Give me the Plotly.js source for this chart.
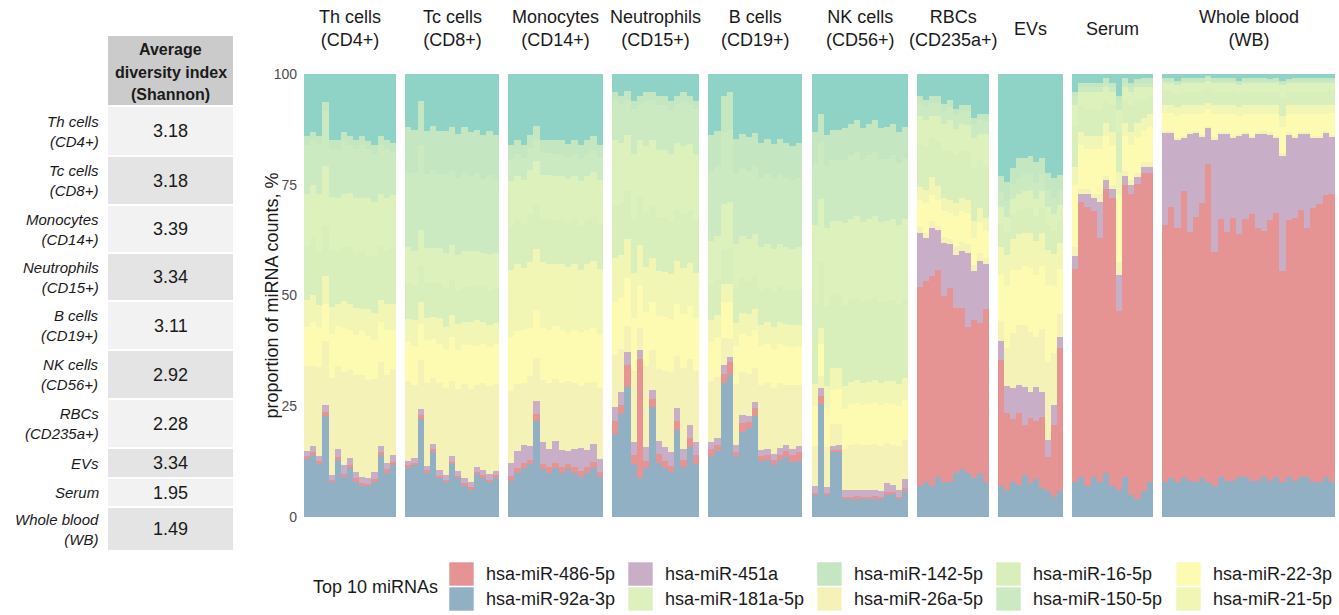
<!DOCTYPE html>
<html>
<head>
<meta charset="utf-8">
<script src="https://cdn.plot.ly/plotly-3.0.1.min.js"></script>
<style>
  html, body { margin: 0; padding: 0; background: #ffffff; }
  #chart { width: 1339px; height: 615px; }
</style>
</head>
<body>
<div id="chart"></div>
<script>
// ---------------- DATA ----------------
const panelNames = ["Th cells<br>(CD4+)", "Tc cells<br>(CD8+)", "Monocytes<br>(CD14+)", "Neutrophils<br>(CD15+)",
  "B cells<br>(CD19+)", "NK cells<br>(CD56+)", "RBCs<br>(CD235a+)", "EVs", "Serum", "Whole blood<br>(WB)"];

const tableHeader = ["Average", "diversity index", "(Shannon)"];
const shannonIndex = [3.18, 3.18, 3.39, 3.34, 3.11, 2.92, 2.28, 3.34, 1.95, 1.49];

const yTitle = "proportion of miRNA counts, %";
const yTicks = [0, 25, 50, 75, 100];
const legendTitle = "Top 10 miRNAs";
const legendOrder = ["hsa-miR-486-5p", "hsa-miR-92a-3p", "hsa-miR-451a", "hsa-miR-181a-5p", "hsa-miR-142-5p",
  "hsa-miR-26a-5p", "hsa-miR-16-5p", "hsa-miR-150-5p", "hsa-miR-22-3p", "hsa-miR-21-5p"];

// proportion of counts per sample (%), one sub-array per panel (same order as panelNames)
const miR_92a_3p = [
  [13,14,12,22,8,13,9,11,8,7,7,8,14,10,12],
  [11,12,22,10,15,9,8,12,9,7,6,10,9,8,9],
  [8,10,11,12,22,11,10,11,10,11,10,9,10,11,9],
  [19,24,30,12,9,11,25,12,11,10,20,11,16,12],
  [14,15,30,31,14,20,21,24,13,13,12,13,14,13,13],
  [5,28,5,15,15,4,4,4,4,4,4,4,5,5,4,6],
  [7,8,7,9,8,8,10,11,10,9,10,8],
  [8,7,9,8,10,8,9,7,6,5,7],
  [8,9,7,9,8,10,7,6,9,5,4,6,8],
  [8,9,8,9,8,8,9,8,7,9,8,8,9,9,8,8,9,8,9,8,9,8,9,9,8,8,9,8]
];
const miR_486_5p = [
  [0.8,0.6,0.7,0.9,0.4,0.5,0.6,0.7,0.8,0.6,0.5,0.6,0.7,0.8,0.6],
  [0.6,0.5,0.8,0.7,0.6,0.5,0.6,0.5,0.5,0.6,0.7,0.5,0.6,0.5,0.6],
  [1.2,1.0,1.3,1.1,1.5,1.2,1.4,1.3,1.2,1.0,1.3,1.4,1.2,1.3,1.1],
  [3,2,5,2,27,1.5,2,2,1.5,1.5,2,1.5,2,2],
  [1.5,1.5,2,3,1,2,1.5,2,1,1.2,1,1.3,1.2,1.5,2],
  [0.5,2,0.4,0.5,0.6,0.5,0.4,0.5,0.5,0.4,0.5,0.4,0.6,0.5,0.5,0.6],
  [45,46,48,47,43,44,38,37,33,36,34,39],
  [32,20,16,18,12,15,14,17,8,18,38],
  [48,62,63,60,55,64,65,40,66,68,70,72,70],
  [59,62,58,65,56,60,63,72,52,58,56,59,55,58,60,57,56,58,60,48,57,59,60,56,62,63,64,66]
];
const miR_451a = [
  [1.2,1.5,1.0,1.5,1.2,1.8,2.0,1.6,1.4,1.5,1.3,1.5,1.2,1.4,1.6],
  [1.0,1.2,1.5,1.0,1.3,1.2,1.0,1.4,1.1,1.3,1.2,1.0,1.1,1.2,1.0],
  [3,4,4,3,3,5,4,5,4,3,4,5,4,4,3],
  [3,3,3,3,2,3,2,3,3,3,3,2.5,3,3],
  [1.5,1.5,2,1,1.5,2,1.5,1.5,1.5,1.5,1.5,1.5,1.5,1.5,1.5],
  [1.5,2,1.5,1,1,1.5,1.5,1.5,1.5,1.5,1.5,1.5,2,1.5,1.5,2],
  [12,10,11,9,12,10,12,13,17,11,14,10],
  [5,7,8,7,9,6,8,6,4,5,3],
  [3,2,3,3,8,2,2,8,2,2,1.5,1.5,1.5],
  [21,17,20,12,22,19,15,8,25,19,22,18,22,19,17,21,22,19,17,26,19,18,17,21,16,15,14,13]
];
const miR_26a_5p = [
  [19,18,20,14,22,19,21,20,22,23,22,21,19,20,20],
  [18,17,11,19,15,20,20,17,19,21,21,19,20,20,20],
  [16,15,14,16,10,14,15,14,15,16,15,14,15,14,16],
  [12,10,6,16,5,18,9,16,17,18,12,18,15,16],
  [14,14,6,4,14,10,10,8,15,15,15,15,14,15,14],
  [9,3,9,5,5,9,10,10,10,10,10,10,9,9,10,9],
  [1.5,1,1.5,1,1.5,1,2,2,2,1.5,2,1.5],
  [5,10,14,15,15,14,12,15,18,13,6],
  [2,1,1,1,2,1,1,3,1,1,1,1,1],
  [0.5,0.4,0.5,0.6,0.5,0.4,0.5,0.3,0.6,0.5,0.5,0.4,0.6,0.5,0.4,0.5,0.6,0.5,0.4,0.7,0.5,0.4,0.5,0.5,0.4,0.4,0.3,0.4]
];
const miR_22_3p = [
  [9,10,9,8,10,9,10,9,9,10,10,9,9,10,9],
  [9,9,8,10,9,9,9,10,9,9,10,9,9,9,9],
  [12,12,12,11,11,12,12,12,12,11,12,12,12,12,12],
  [12,12,11,12,10,12,11,12,12,12,12,12,12,12],
  [9,9,8,8,9,9,9,9,9,9,9,9,9,9,9],
  [9,8,9,8,8,9,9,9,9,9,9,9,9,9,9,9],
  [6,7,6,6,6,6,7,7,7,6,7,6],
  [12,16,16,14,14,15,15,15,18,17,12],
  [14,10,9,10,10,9,9,15,8,8,8,7,8],
  [4,4,5,5,4,4,5,4,5,4,4,5,4,4,5,4,4,4,5,6,4,5,4,4,5,5,4,5]
];
const miR_21_5p = [
  [6,6,5,6,6,5,6,6,6,5,6,6,5,6,6],
  [5,6,5,5,5,6,5,5,6,5,5,6,5,5,5],
  [15,15,14,15,14,15,15,14,15,15,15,14,15,15,15],
  [10,10,9,10,9,10,10,10,10,10,10,10,10,10],
  [5,5,4,4,5,5,5,5,5,5,5,5,5,5,5],
  [5,4,5,5,5,5,5,5,5,5,5,5,5,5,5,5],
  [3,3,4,3,3,3,3,3,3,4,3,3],
  [7,8,8,9,8,8,8,8,8,8,7],
  [4,3,3,3,3,3,3,5,3,3,3,3,3],
  [2,2,2,2,2,2,2,1.5,2,2,2,2,2,2,2,2,2,2,2,2.5,2,2,2,2,2,2,2,2]
];
const miR_16_5p = [
  [12,13,12,11,13,12,12,13,12,13,12,13,12,12,13],
  [8,8,8,8,8,8,9,8,8,8,8,8,8,8,8],
  [10,10,10,11,10,10,10,10,10,10,10,10,10,10,10],
  [12,12,11,12,11,12,12,12,12,12,12,12,12,12],
  [8,8,8,8,8,8,8,8,8,8,8,8,8,8,8],
  [18,16,18,17,17,18,18,18,18,18,18,18,18,18,18,18],
  [10,10,9,10,11,11,11,11,11,12,11,12],
  [6,6,6,6,6,6,6,6,6,6,6],
  [9,6,6,6,6,5,6,9,5,6,5,4,4],
  [3,3,3,3,3,3,3,3,3,3,3,3,3,3,3,3,3,3,3,4,3,3,3,3,3,3,3,3]
];
const miR_181a_5p = [
  [12,12,13,13,12,12,12,12,13,12,13,12,12,12,12],
  [8,8,8,8,8,8,8,8,8,8,8,8,8,8,8],
  [10,10,10,10,10,10,10,10,10,10,10,10,10,10,10],
  [15,14,13,15,13,15,15,15,15,15,15,15,15,15],
  [10,10,10,10,10,10,10,10,10,10,10,10,10,10,10],
  [18,16,18,17,17,18,18,18,18,18,18,18,18,18,18,18],
  [6,6,5,6,6,7,6,6,6,7,6,7],
  [4,4,4,4,4,4,4,4,4,4,4],
  [5,3,4,4,4,3,3,5,3,3,3,3,2],
  [2,2,2,2,2,2,2,2,2,2,2,2,2,2,2,2,2,2,2,3,2,2,2,2,2,2,2,2]
];
const miR_150_5p = [
  [11,10,11,12,11,11,12,11,11,12,11,11,11,11,10],
  [17,18,19,17,18,17,18,17,18,18,17,18,17,18,17],
  [5,5,5,5,5,5,5,5,5,5,5,5,5,5,5],
  [9,9,8,10,8,10,9,10,10,10,9,10,9,10],
  [16,16,16,16,16,16,16,16,16,16,16,16,16,16,16],
  [14,14,14,14,14,14,14,14,14,14,14,14,14,14,14,14],
  [3,3,3,3,3,3,3,3,3,3,3,3],
  [4,4,4,4,4,4,4,4,4,4,4],
  [2,1,1,1,1,1,1,2,1,1,1,1,1],
  [0.5,0.5,0.5,0.5,0.5,0.5,0.5,0.5,0.5,0.5,0.5,0.5,0.5,0.5,0.5,0.5,0.5,0.5,0.5,0.5,0.5,0.5,0.5,0.5,0.5,0.5,0.5,0.5]
];
const miR_142_5p = [
  [2,2,2,2,2,2,2,2,2,2,2,2,2,2,2],
  [10,10,10,10,10,10,10,10,10,10,10,10,10,10,10],
  [3,3,3,3,3,3,3,3,3,3,3,3,3,3,3],
  [2,2,2,2,2,2,2,2,2,2,2,2,2,2],
  [8,8,8,8,8,8,8,8,8,8,8,8,8,8,8],
  [7,7,7,7,7,7,7,7,7,7,7,7,7,7,7,7],
  [1.5,1.5,1.5,1.5,1.5,1.5,1.5,1.5,1.5,1.5,1.5,1.5],
  [4,5,4,5,4,4,5,4,4,5,4],
  [1,1,1,1,1,1,1,1,1,1,1,1,1],
  [0.5,0.5,0.5,0.5,0.5,0.5,0.5,0.5,0.5,0.5,0.5,0.5,0.5,0.5,0.5,0.5,0.5,0.5,0.5,0.5,0.5,0.5,0.5,0.5,0.5,0.5,0.5,0.5]
];
const otherMiRNAs = [
  [14,13,14,6,15,15,13,14,15,14,15,16,14,15,16],
  [12,13,6,13,12,13,13,12,14,12,13,13,14,13,14],
  [16,15,16,14,12,15,15,15,15,16,15,16,15,14,16],
  [4,5,4,6,5,4,4,5,5,6,5,4,5,6],
  [14,13,5,4,15,14,15,14,16,15,16,15,16,17,16],
  [13,10,14,13,13,12,11,10,12,11,10,12,12,11,13,12],
  [5,6,5,5,7,6,8,7,7,10,9,9],
  [26,28,24,21,20,19,21,20,23,26,27],
  [4,2,2,2,2,1,2,5,1,2,1,1,1],
  [1,1,1.5,1,1,1,1,0.5,1,1,1,1,1.5,1,1,1,1,1,1,1.5,1,1,1,1,1,1,1,1]
];

// ---------------- STYLE ----------------
const FONT = "Liberation Sans, Arial, Helvetica, sans-serif";
const colors = {
  "hsa-miR-92a-3p": "#91B0C4",
  "hsa-miR-486-5p": "#E59393",
  "hsa-miR-451a": "#C9AEC8",
  "hsa-miR-26a-5p": "#F5F2B8",
  "hsa-miR-22-3p": "#FDFBB1",
  "hsa-miR-21-5p": "#F1F6B4",
  "hsa-miR-16-5p": "#D9EFBB",
  "hsa-miR-181a-5p": "#DDF1BD",
  "hsa-miR-150-5p": "#CCEAC2",
  "hsa-miR-142-5p": "#C4E6C0",
  "other": "#8FD3C7"
};
// stacking order, bottom to top
const stack = [
  ["hsa-miR-92a-3p", miR_92a_3p], ["hsa-miR-486-5p", miR_486_5p], ["hsa-miR-451a", miR_451a],
  ["hsa-miR-26a-5p", miR_26a_5p], ["hsa-miR-22-3p", miR_22_3p], ["hsa-miR-21-5p", miR_21_5p],
  ["hsa-miR-16-5p", miR_16_5p], ["hsa-miR-181a-5p", miR_181a_5p], ["hsa-miR-150-5p", miR_150_5p],
  ["hsa-miR-142-5p", miR_142_5p], ["other", otherMiRNAs]
];

// pixel layout of the plotting region
const PL = 304, PR = 1335, PT = 74, PB = 517;
const px = x => (x - PL) / (PR - PL);
const py = y => (PB - y) / (PB - PT);
const panelPx = [[304,396],[405,499],[508,603],[612,699],[708,802],[812,908],[917,989],[998,1063],[1072,1153],[1162,1335]];

const traces = [];
stack.forEach(([name, arr]) => {
  arr.forEach((vals, p) => {
    traces.push({
      type: "bar",
      x: vals.map((_, i) => i),
      y: vals,
      xaxis: p === 0 ? "x" : "x" + (p + 1),
      yaxis: "y",
      name: name,
      showlegend: false,
      marker: { color: colors[name], line: { width: 0 } },
      hovertemplate: name + ": %{y:.1f}%<extra></extra>"
    });
  });
});

const layout = {
  width: 1339, height: 615,
  margin: { l: PL, r: 1339 - PR, t: PT, b: 615 - PB, autoexpand: false },
  paper_bgcolor: "#ffffff", plot_bgcolor: "#ffffff",
  font: { family: FONT, color: "#1a1a1a" },
  barmode: "stack", barnorm: "percent", bargap: 0,
  showlegend: false,
  yaxis: {
    domain: [0, 1], range: [0, 100], anchor: "x",
    tickvals: yTicks, ticktext: yTicks.map(String),
    showgrid: false, zeroline: false, showline: false, ticks: "",
    ticklabelstandoff: 6,
    tickfont: { size: 14, color: "#4D4D4D", family: FONT }
  },
  shapes: [], annotations: []
};

// y-axis title as rotated annotation
layout.annotations.push({
  xref: "paper", yref: "paper", x: px(271), y: py(295.5),
  xanchor: "center", yanchor: "middle", showarrow: false, textangle: -90,
  text: yTitle, font: { size: 18, color: "#1a1a1a", family: FONT }
});

panelPx.forEach((pp, p) => {
  const key = p === 0 ? "xaxis" : "xaxis" + (p + 1);
  const n = miR_92a_3p[p].length;
  layout[key] = {
    domain: [px(pp[0]), px(pp[1])], anchor: "y",
    range: [-0.5, n - 0.5], showticklabels: false, showgrid: false,
    zeroline: false, showline: false, ticks: ""
  };
  layout.annotations.push({
    xref: "paper", yref: "paper", x: (px(pp[0]) + px(pp[1])) / 2, y: py(29),
    xanchor: "center", yanchor: "middle", showarrow: false, align: "center",
    text: panelNames[p], font: { size: 18, color: "#1a1a1a", family: FONT }
  });
});

// ---------------- TABLE ----------------
const headerBox = [36, 105];
const rowBoxes = [[107,155],[157,204],[206,252],[254,300],[302,349],[351,398],[400,447],[449,477],[479,506],[508,550]];
const TX0 = 108, TX1 = 233;
layout.shapes.push({ type: "rect", xref: "paper", yref: "paper", x0: px(TX0), x1: px(TX1),
  y0: py(headerBox[1]), y1: py(headerBox[0]), fillcolor: "#CBCBCB", line: { width: 0 }, layer: "below" });
[50, 72, 94].forEach((yy, i) => {
  layout.annotations.push({ xref: "paper", yref: "paper", x: px((TX0 + TX1) / 2), y: py(yy),
    xanchor: "center", yanchor: "middle", showarrow: false,
    text: "<b>" + tableHeader[i] + "</b>", font: { size: 16, color: "#1a1a1a", family: FONT } });
});
rowBoxes.forEach((rb, i) => {
  layout.shapes.push({ type: "rect", xref: "paper", yref: "paper", x0: px(TX0), x1: px(TX1),
    y0: py(rb[1]), y1: py(rb[0]), fillcolor: i % 2 === 0 ? "#F2F2F2" : "#E4E4E4", line: { width: 0 }, layer: "below" });
  const yc = (rb[0] + rb[1]) / 2;
  layout.annotations.push({ xref: "paper", yref: "paper", x: px((TX0 + TX1) / 2), y: py(yc),
    xanchor: "center", yanchor: "middle", showarrow: false,
    text: shannonIndex[i].toFixed(2), font: { size: 18, color: "#1a1a1a", family: FONT } });
  layout.annotations.push({ xref: "paper", yref: "paper", x: px(101), y: py(yc),
    xanchor: "right", yanchor: "middle", showarrow: false, align: "right",
    text: "<i>" + panelNames[i].replace("<br>", "</i><br><i>") + "</i>",
    font: { size: 15, color: "#1a1a1a", family: FONT } });
});

// ---------------- LEGEND (manual, 2 rows, column-major) ----------------
const colX = [449, 628, 817, 996, 1176];
const rowY = [[562, 586], [587, 611]];
layout.annotations.push({ xref: "paper", yref: "paper", x: px(311), y: py(587),
  xanchor: "left", yanchor: "middle", showarrow: false,
  text: legendTitle, font: { size: 18, color: "#1a1a1a", family: FONT } });
legendOrder.forEach((nm, k) => {
  const c = Math.floor(k / 2), r = k % 2;
  const x0 = colX[c], yb = rowY[r];
  layout.shapes.push({ type: "rect", xref: "paper", yref: "paper", x0: px(x0), x1: px(x0 + 25),
    y0: py(yb[1]), y1: py(yb[0]), fillcolor: colors[nm], line: { width: 0.6, color: "#ffffff" } });
  layout.annotations.push({ xref: "paper", yref: "paper", x: px(x0 + 35), y: py((yb[0] + yb[1]) / 2),
    xanchor: "left", yanchor: "middle", showarrow: false,
    text: nm, font: { size: 18, color: "#1a1a1a", family: FONT } });
});

Plotly.newPlot("chart", traces, layout, { staticPlot: true, displayModeBar: false });
</script>
</body>
</html>
